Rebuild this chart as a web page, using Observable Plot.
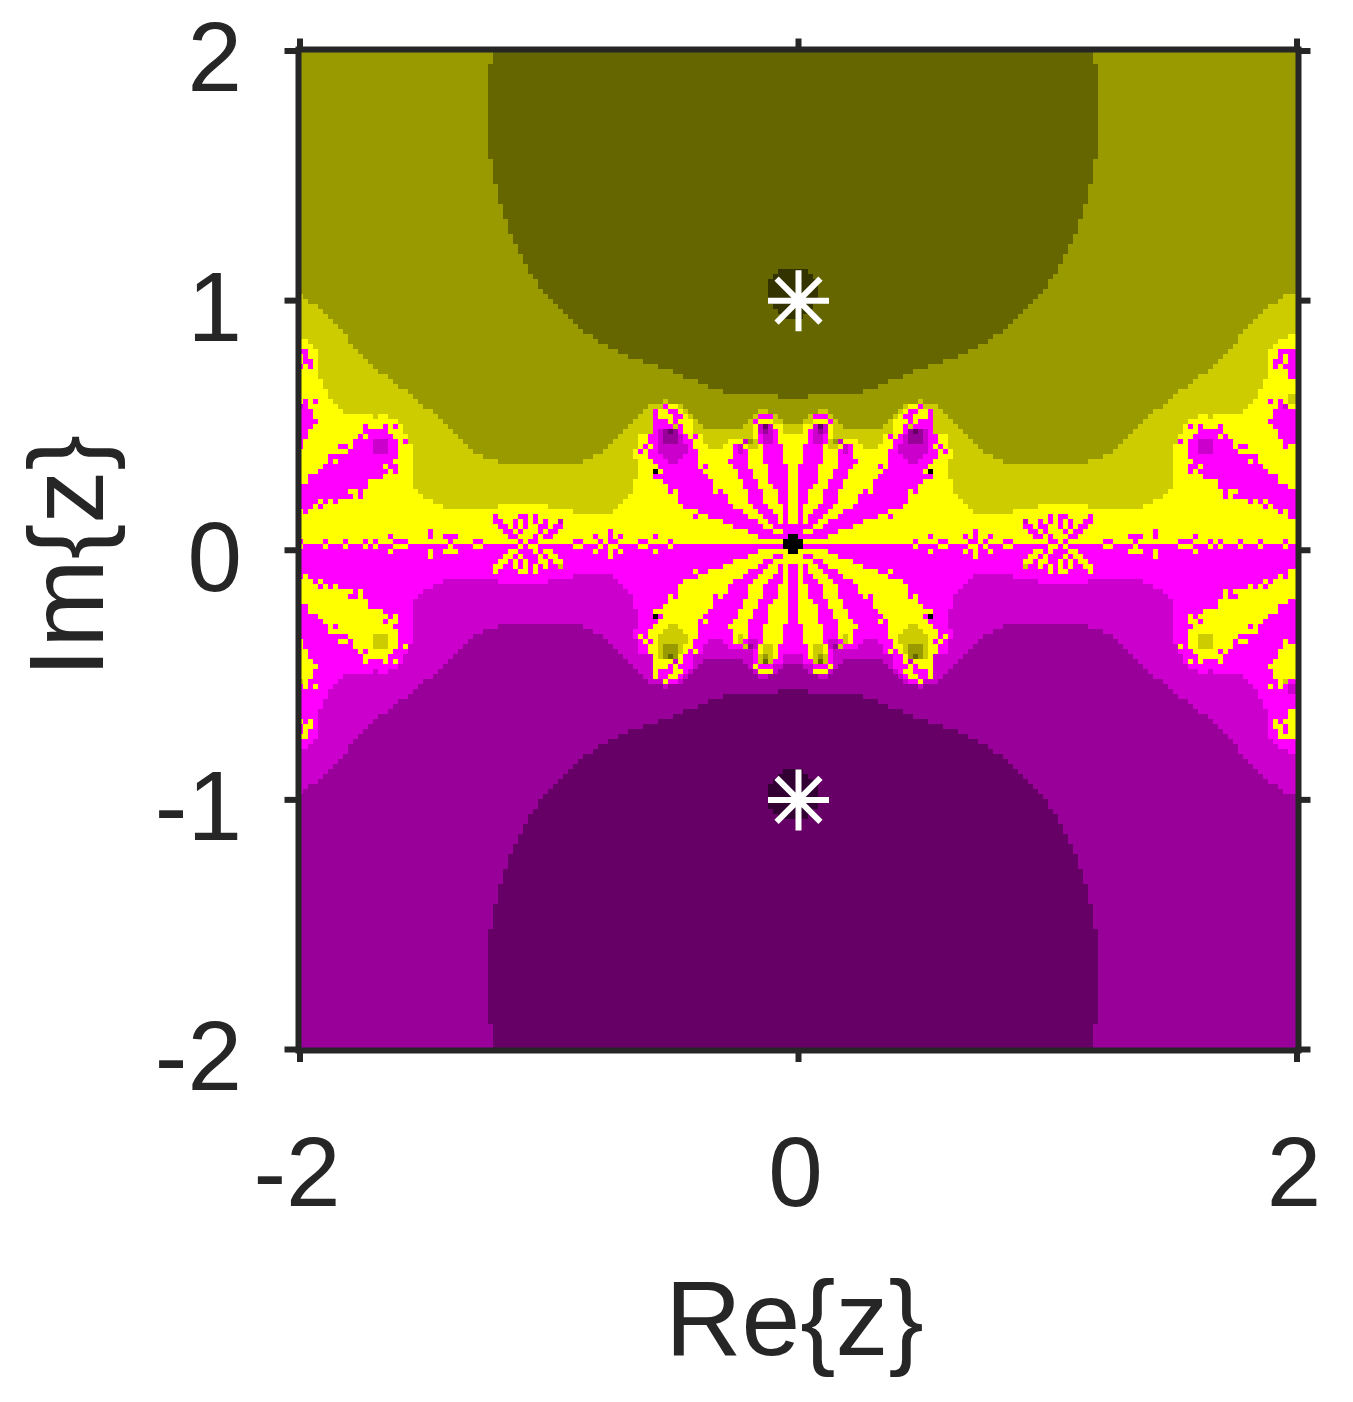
<!DOCTYPE html>
<html>
<head>
<meta charset="utf-8">
<style>html,body{margin:0;padding:0;background:#fff}svg{display:block}</style>
<script src="https://cdn.jsdelivr.net/npm/d3@7"></script>
<script src="https://cdn.jsdelivr.net/npm/@observablehq/plot@0.6"></script>
</head>
<body>
<div id="chart"></div>
<script>
// Level codes and their colours
const levelCodes  = ["Y","C","N","D","E","M","A","B","P","F","K"];
const levelColors = ["#ffff00","#cccc00","#999900","#666600","#333300","#ff00ff","#cc00cc","#990099","#660066","#330033","#000000"];
// Lower half of the picture shows the same shapes in the magenta family
const lowerCode = {Y:"M",C:"A",N:"B",D:"P",E:"F",M:"Y",A:"C",B:"N",P:"D",F:"E",K:"K"};

// Rows 0-48: first column of the darkest band in the left half
const darkStart = [39,39,39,38,38,38,38,38,38,38,38,38,38,38,38,38,38,38,38,38,38,38,
  39,39,39,39,39,40,40,40,40,41,41,41,42,42,42,43,43,44,44,45,45,46,46,47,48,48,49];

// Rows 49-98: painted runs of the left half, unpainted cells stay yellow
const paintedRows = [
"C0-0 N1-49 D50-98",
"C0-1 N2-50 D51-98",
"C0-3 N4-51 D52-98",
"C0-4 N5-52 D53-98",
"C0-5 N6-53 D54-98",
"C0-6 N7-54 D55-98",
"C0-7 N8-55 D56-98",
"C0-8 N9-56 D57-98",
"C0-9 N10-58 D59-98",
"C2-9 N10-59 D60-98",
"C3-10 N11-61 D62-98",
"C4-11 N12-63 D64-98 M0-1",
"C4-12 N13-65 D66-98 M1-1",
"C4-13 N14-68 D69-98 M1-2",
"C4-14 N15-71 D72-98 M0-0 M2-2",
"C4-15 N16-74 D75-98",
"C4-17 N18-76 D77-98",
"C5-18 N19-79 D80-98",
"C5-19 N20-81 D82-98",
"C6-21 N22-84 D85-98",
"C6-22 N23-95 D96-98",
"C7-23 N24-98 C73-73 M1-1 M3-3",
"C8-24 N25-98 C70-72 M73-73 Y74-75 C76-76 A0-0 M1-1",
"C9-26 N27-98 C69-70 M71-71 Y72-73 M74-75 Y76-76 C77-77 C92-93 M0-2",
"C15-15 C18-27 N28-98 C68-70 M71-71 Y72-74 M75-76 Y77-77 C78-78 C91-91 M92-94 C95-95 M0-2",
"C20-28 N29-98 C67-70 M71-73 Y74-74 M75-75 Y76-78 C79-79 C90-90 M91-91 Y92-94 C95-96 M0-3",
"C21-29 N30-98 C66-70 M71-74 C75-75 M76-76 Y77-78 C79-80 C89-90 Y91-91 A92-92 P93-93 A94-94 Y95-96 C97-98 M0-2 M13-13 M17-17 M19-19",
"C21-30 N31-64 C65-70 M71-71 A72-72 B73-73 P74-74 B75-75 M76-76 Y77-78 C79-90 Y91-91 A92-92 B93-93 A94-94 M95-95 Y96-96 C97-98 M0-1 M13-17",
"C22-31 N32-63 C64-67 M70-71 A72-72 B73-75 A76-76 M77-77 M79-79 C81-90 M92-92 A93-94 M95-95 M0-1 M12-12 M14-18",
"C22-32 N33-62 C63-67 M70-71 A72-72 B73-75 A76-76 M77-78 C81-85 A89-89 N90-90 C91-91 M92-92 A93-94 M95-95 M0-0 M11-14 A15-17 M18-19 M21-21",
"C23-33 N34-61 C62-67 M69-69 M71-71 A72-77 M78-78 C82-84 M87-87 A88-88 C90-91 M93-96 M0-0 M8-9 M11-14 A15-17 M18-19",
"C23-34 N35-60 C61-66 M68-68 M70-71 A72-77 M78-79 M87-87 A88-88 M89-89 M93-96 M10-14 A15-17 M18-19",
"C23-36 N37-58 C59-66 M70-72 A73-76 M77-79 M87-89 M93-96 M6-19",
"C23-39 N40-56 C57-67 M71-73 A74-75 M76-79 M86-89 M93-96 M6-6 M8-18",
"C23-67 M72-79 M81-81 M87-89 M94-97 M5-16 M18-19",
"C23-67 K71-71 M73-80 M88-90 M94-97 M4-17 M19-19",
"C23-67 M71-81 M88-90 M94-97 M2-16",
"C23-66 M73-82 M89-91 M94-97 M2-13",
"C23-66 M74-82 M89-91 M95-97 M0-13",
"C24-66 M74-74 M76-82 M84-84 M90-92 M96-97 M0-9 M12-12",
"C25-65 M76-85 M90-92 M96-97 M0-10 M12-12",
"C27-64 M76-85 M90-92 M96-97 M0-3 M5-5 M7-7",
"C29-39 C50-63 M77-86 M91-93 M97-97 M0-2 M4-4",
"C55-62 M80-88 M92-94 M97-97 M1-1",
"M39-39 M44-45 M47-47 M79-79 M82-89 M93-95 M97-97",
"M39-40 M43-43 M45-45 M47-47 M49-49 A52-52 M85-91 M94-95 M97-97",
"M40-41 M43-43 M45-45 M48-49 M51-52 M87-92 M95-98",
"M26-26 M41-42 M44-44 M48-48 M50-51 M62-62 M90-94 M97-98",
"M18-18 M26-26 M29-31 M42-43 M47-47 M49-50 M59-59 M62-62 M64-64 M71-71 M92-97 K98-98",
"M0-0 M5-5 M9-9 M13-13 M15-15 M19-21 M30-30 M35-36 M44-44 M46-47 M55-56 M60-60 M62-63 M68-69 M74-74 K97-98"
];
const paintedFirstRow = 49;

// The two right-most columns have no partner on the left: [first row, last row, code]
const rightEdgeRuns = [[0,48,"N"],[49,56,"C"],[57,59,"Y"],[60,65,"M"],[66,68,"Y"],[69,70,"C"],[71,71,"Y"],[72,78,"M"],[79,87,"Y"],[88,93,"M"],[94,98,"Y"]];

// Darkest spot around the root: [row, first column]
const rootRows = [[44,96],[45,95],[46,94],[47,94],[48,94],[49,94],[50,94],[51,95],[52,96],[53,97]];
const rootPoints = [{re:0, im:1},{re:0, im:-1}];

const xTickValues = [-2,0,2];
const xTickLabels = ["-2","0","2"];
const yTickValues = [-2,-1,0,1,2];
const yTickLabels = ["-2","-1","0","1","2"];

// Grid geometry in data units
const COLS = 200, ROWS = 200, HALF = 99;
const xOrigin = -2.006, xStep = 0.02006;
const yOrigin = 2.006, yStep = 0.02003;

// Assemble the left half of the top half
const upper = [];
for (let r = 0; r < HALF; r++) {
  const row = new Array(HALF).fill("Y");
  const paint = (code, a, b) => { for (let c = a; c <= b; c++) row[c] = code; };
  if (r < paintedFirstRow) { paint("N", 0, darkStart[r] - 1); paint("D", darkStart[r], HALF - 1); }
  else for (const t of paintedRows[r - paintedFirstRow].split(" ")) {
    const [a, b] = t.slice(1).split("-").map(Number);
    paint(t[0], a, b);
  }
  for (const [rr, c] of rootRows) if (rr === r) paint("E", c, HALF - 1);
  upper.push(row);
}
const rightEdge = r => rightEdgeRuns.find(([a, b]) => r >= a && r <= b)[2];

// Whole grid: columns 99-197 and rows 99-197 repeat the shapes across the two mirror lines
function level(r, c) {
  const rr = r < HALF ? r : r <= 197 ? 197 - r : 0;
  const v = c < HALF ? upper[rr][c] : c <= 197 ? upper[rr][197 - c] : rightEdge(rr);
  return r < HALF ? v : lowerCode[v];
}
const runs = [];
for (let r = 0; r < ROWS; r++) {
  let start = 0;
  for (let c = 1; c <= COLS; c++) {
    if (c === COLS || level(r, c) !== level(r, start)) {
      runs.push({
        level: level(r, start),
        x1: xOrigin + start * xStep, x2: xOrigin + c * xStep,
        y1: yOrigin - r * yStep, y2: yOrigin - (r + 1) * yStep
      });
      start = c;
    }
  }
}

const asterisk = {
  draw(ctx, size) {
    const r = Math.sqrt(size / Math.PI), d = r * 0.72;
    ctx.moveTo(-r, 0); ctx.lineTo(r, 0);
    ctx.moveTo(0, -r); ctx.lineTo(0, r);
    ctx.moveTo(-d, -d); ctx.lineTo(d, d);
    ctx.moveTo(-d, d); ctx.lineTo(d, -d);
  }
};

const ink = "#262626", font = "Liberation Sans, Arial, sans-serif";
const blank = () => "";
const plot = Plot.plot({
  width: 1353, height: 1402,
  marginLeft: 299.5, marginRight: 56.5, marginTop: 50.5, marginBottom: 353,
  style: {background: "#fff", fontFamily: font},
  x: {domain: [-2, 2], axis: null},
  y: {domain: [-2, 2], axis: null},
  color: {type: "ordinal", domain: levelCodes, range: levelColors},
  marks: [
    Plot.rect(runs, {x1: "x1", x2: "x2", y1: "y1", y2: "y2", fill: "level", shapeRendering: "crispEdges"}),
    Plot.axisX({anchor: "bottom", ticks: xTickValues, tickSize: 13, tickFormat: blank, stroke: ink, strokeWidth: 6, label: null}),
    Plot.axisX({anchor: "top", ticks: xTickValues, tickSize: 13, tickFormat: blank, stroke: ink, strokeWidth: 6, label: null}),
    Plot.axisY({anchor: "left", ticks: yTickValues, tickSize: 15, tickFormat: blank, stroke: ink, strokeWidth: 6, label: null}),
    Plot.axisY({anchor: "right", ticks: yTickValues, tickSize: 13, tickFormat: blank, stroke: ink, strokeWidth: 6, label: null}),
    Plot.frame({stroke: ink, strokeWidth: 6, insetLeft: -1.5, insetRight: -1.5, insetTop: -1.5, insetBottom: -1}),
    Plot.dot(rootPoints, {x: "re", y: "im", r: 30.5, symbol: asterisk, fill: "none", stroke: "#fff", strokeWidth: 6}),
    Plot.text(xTickLabels, {x: (d, i) => xTickValues[i], y: -2, text: d => d, dx: -3, dy: 125, fontSize: 98, fill: ink, fontFamily: font}),
    Plot.text(yTickLabels, {x: -2, y: (d, i) => yTickValues[i], text: d => d, textAnchor: "end", dx: -58, dy: 9, fontSize: 98, fill: ink, fontFamily: font}),
    Plot.text(["Re{z}"], {x: 0, y: -2, dx: -4, dy: 272, fontSize: 105.6, fill: ink, fontFamily: font}),
    Plot.text(["Im{z}"], {x: -2, y: 0, dx: -231, dy: 6, rotate: -90, fontSize: 106.5, fill: ink, fontFamily: font})
  ]
});
document.getElementById("chart").appendChild(plot);
</script>
</body>
</html>
